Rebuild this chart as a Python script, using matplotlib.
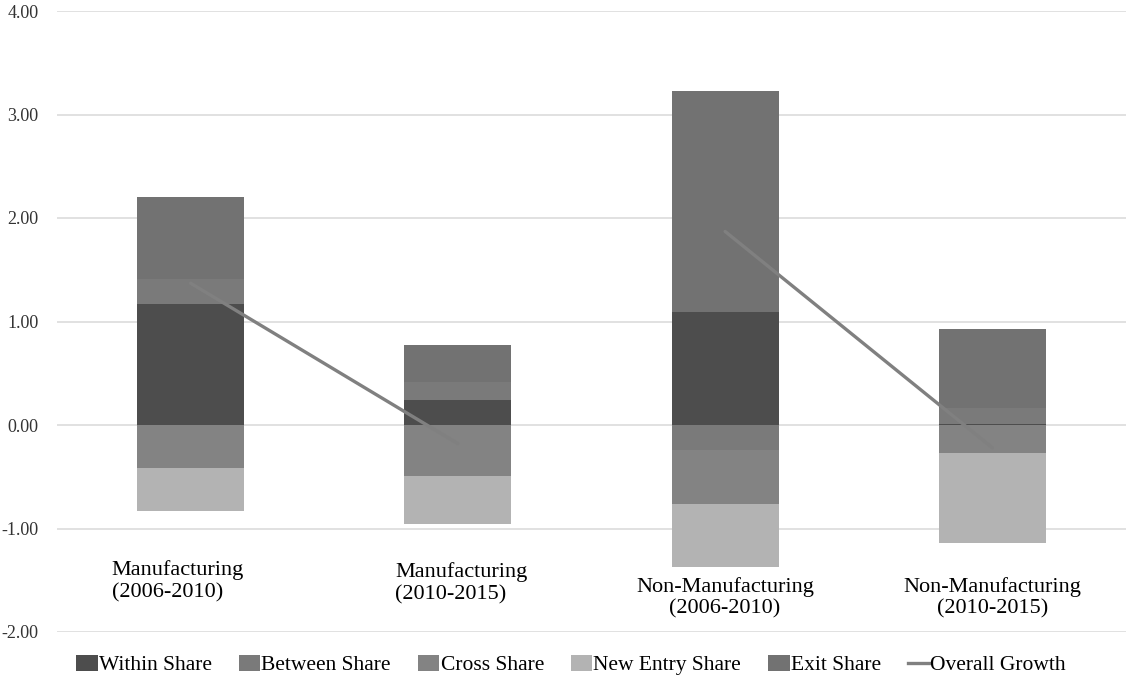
import matplotlib
matplotlib.use("Agg")
import matplotlib.pyplot as plt
import numpy as np
from matplotlib.patches import Patch
from matplotlib.lines import Line2D

categories = ["Manufacturing\n(2006-2010)", "Manufacturing\n(2010-2015)",
              "Non-Manufacturing\n(2006-2010)", "Non-Manufacturing\n(2010-2015)"]
within = [1.17, 0.24, 1.09, 0.01]
between = [0.24, 0.175, -0.24, 0.15]
cross = [-0.42, -0.49, -0.52, -0.27]
new_entry = [-0.41, -0.47, -0.61, -0.87]
exit_share = [0.79, 0.355, 2.14, 0.77]
overall = [1.37, -0.18, 1.87, -0.22]
yticks = [-2, -1, 0, 1, 2, 3, 4]

series = [("Within Share", within, "#4d4d4d"),
          ("Between Share", between, "#7a7a7a"),
          ("Cross Share", cross, "#838383"),
          ("New Entry Share", new_entry, "#b3b3b3"),
          ("Exit Share", exit_share, "#727272")]

plt.rcParams['font.family'] = ['Liberation Serif', 'DejaVu Serif']
plt.rcParams['axes.unicode_minus'] = False

fig = plt.figure(figsize=(11.31, 6.8), dpi=100)
ax = fig.add_axes([57/1131, 48/680, 1069/1131, 621/680])

x = np.arange(len(categories))
pos_base = np.zeros(len(x))
neg_base = np.zeros(len(x))
for name, vals, col in series:
    v = np.array(vals, dtype=float)
    bottoms = np.where(v >= 0, pos_base, neg_base)
    ax.bar(x, v, width=0.4, bottom=bottoms, color=col, zorder=2, linewidth=0)
    pos_base = pos_base + np.where(v >= 0, v, 0)
    neg_base = neg_base + np.where(v < 0, v, 0)

ax.plot(x[0:2], overall[0:2], color="#808080", lw=2.4, zorder=3, solid_capstyle='round')
ax.plot(x[2:4], overall[2:4], color="#808080", lw=2.4, zorder=3, solid_capstyle='round')

ax.set_xlim(-0.5, 3.5)
ax.set_ylim(-2, 4)
ax.set_yticks(yticks)
ax.set_yticklabels([f"{t:.2f}" for t in yticks], fontsize=13, color="#333333")
ax.set_xticks([])
ax.tick_params(axis='y', length=0, pad=13.5)
for s in ax.spines.values():
    s.set_visible(False)
ax.grid(axis='y', color="#d9d9d9", lw=1.1, zorder=0)
ax.set_axisbelow(True)

# category labels
label_x = [-0.295, 0.766, 2.0, 3.0]
label_y = [-1.51, -1.53, -1.67, -1.67]
label_ha = ['left', 'left', 'center', 'center']
for lx, ly, ha, txt in zip(label_x, label_y, label_ha, categories):
    ax.text(lx, ly, txt, ha=ha, va='center', multialignment='left' if ha == 'left' else 'center',
            fontsize=16, linespacing=1.2, color="#000000")

handles = [Patch(facecolor=c, edgecolor='none') for _, _, c in series]
handles.append(Line2D([0], [0], color="#808080", lw=2.4))
labels = [n for n, _, _ in series] + ["Overall Growth"]
fig.legend(handles, labels, loc='center', bbox_to_anchor=(0.505, (680-665)/680),
           ncol=6, frameon=False, fontsize=15.5, handlelength=1.0, handleheight=0.75,
           handletextpad=0.05, columnspacing=1.25)

fig.savefig("out.png", dpi=100)
